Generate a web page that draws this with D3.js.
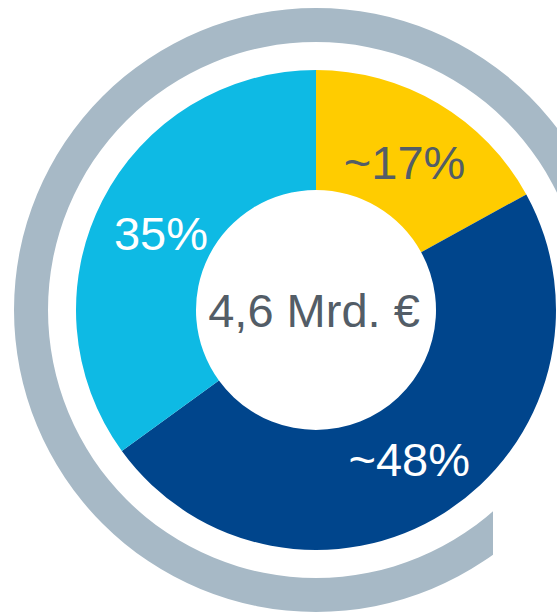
<!DOCTYPE html>
<html>
<head>
<meta charset="utf-8">
<script src="https://cdn.jsdelivr.net/npm/d3@7"></script>
<style>
  body { margin: 0; background: #fff; }
  svg { display: block; font-family: "Liberation Sans", Arial, sans-serif; }
</style>
</head>
<body>
<svg id="chart"></svg>
<script>
// data
var segments = ["Segment A", "Segment B", "Segment C"];
var shares = [17, 48, 35];
var labels = ["~17%", "~48%", "35%"];
var total = "4,6 Mrd. €";

var width = 557,
  height = 612,
  cx = 316,
  cy = 310;

var colors = ["#ffcc00", "#00458c", "#0ebae4"];
var textColors = ["#535d67", "#ffffff", "#ffffff"];

var svg = d3.select("#chart").attr("width", width).attr("height", height);

var g = svg.append("g").attr("transform", "translate(" + cx + "," + cy + ")");

// clip for the outer grey ring: cut straight at the lower right
var clip = svg.append("defs").append("clipPath").attr("id", "ringClip");
clip.append("rect").attr("x", -cx).attr("y", -cy).attr("width", width).attr("height", cy);
clip.append("rect").attr("x", -cx).attr("y", 0).attr("width", 493 - 0 - 0 - 0).attr("height", height - cy);

// grey outer ring
var ring = d3.arc().innerRadius(268).outerRadius(302);
g.append("path")
  .attr("d", ring({ startAngle: Math.PI * 0.5, endAngle: Math.PI * 2.5 }))
  .attr("fill", "#a7b9c6")
  .attr("clip-path", "url(#ringClip)");

var pie = d3.pie().sort(null).value((d) => d);
var arcs = pie(shares);

var arc = d3.arc().innerRadius(120).outerRadius(240);
var labelArc = d3.arc().innerRadius(174).outerRadius(174);

g.selectAll("path.slice")
  .data(arcs)
  .enter()
  .append("path")
  .attr("class", "slice")
  .attr("d", arc)
  .attr("fill", (d, i) => colors[i])
  .append("title")
  .text((d, i) => segments[i] + ": " + labels[i]);

g.selectAll("text.label")
  .data(arcs)
  .enter()
  .append("text")
  .attr("class", "label")
  .attr("transform", (d) => "translate(" + labelArc.centroid(d) + ")")
  .attr("text-anchor", "middle")
  .attr("dy", "0.4em")
  .attr("font-size", 47)
  .attr("fill", (d, i) => textColors[i])
  .text((d, i) => labels[i]);

// total in the middle
g.append("text")
  .attr("x", -2)
  .attr("dy", "0.36em")
  .attr("text-anchor", "middle")
  .attr("font-size", 47)
  .attr("fill", "#535d67")
  .text(total);
</script>
</body>
</html>
